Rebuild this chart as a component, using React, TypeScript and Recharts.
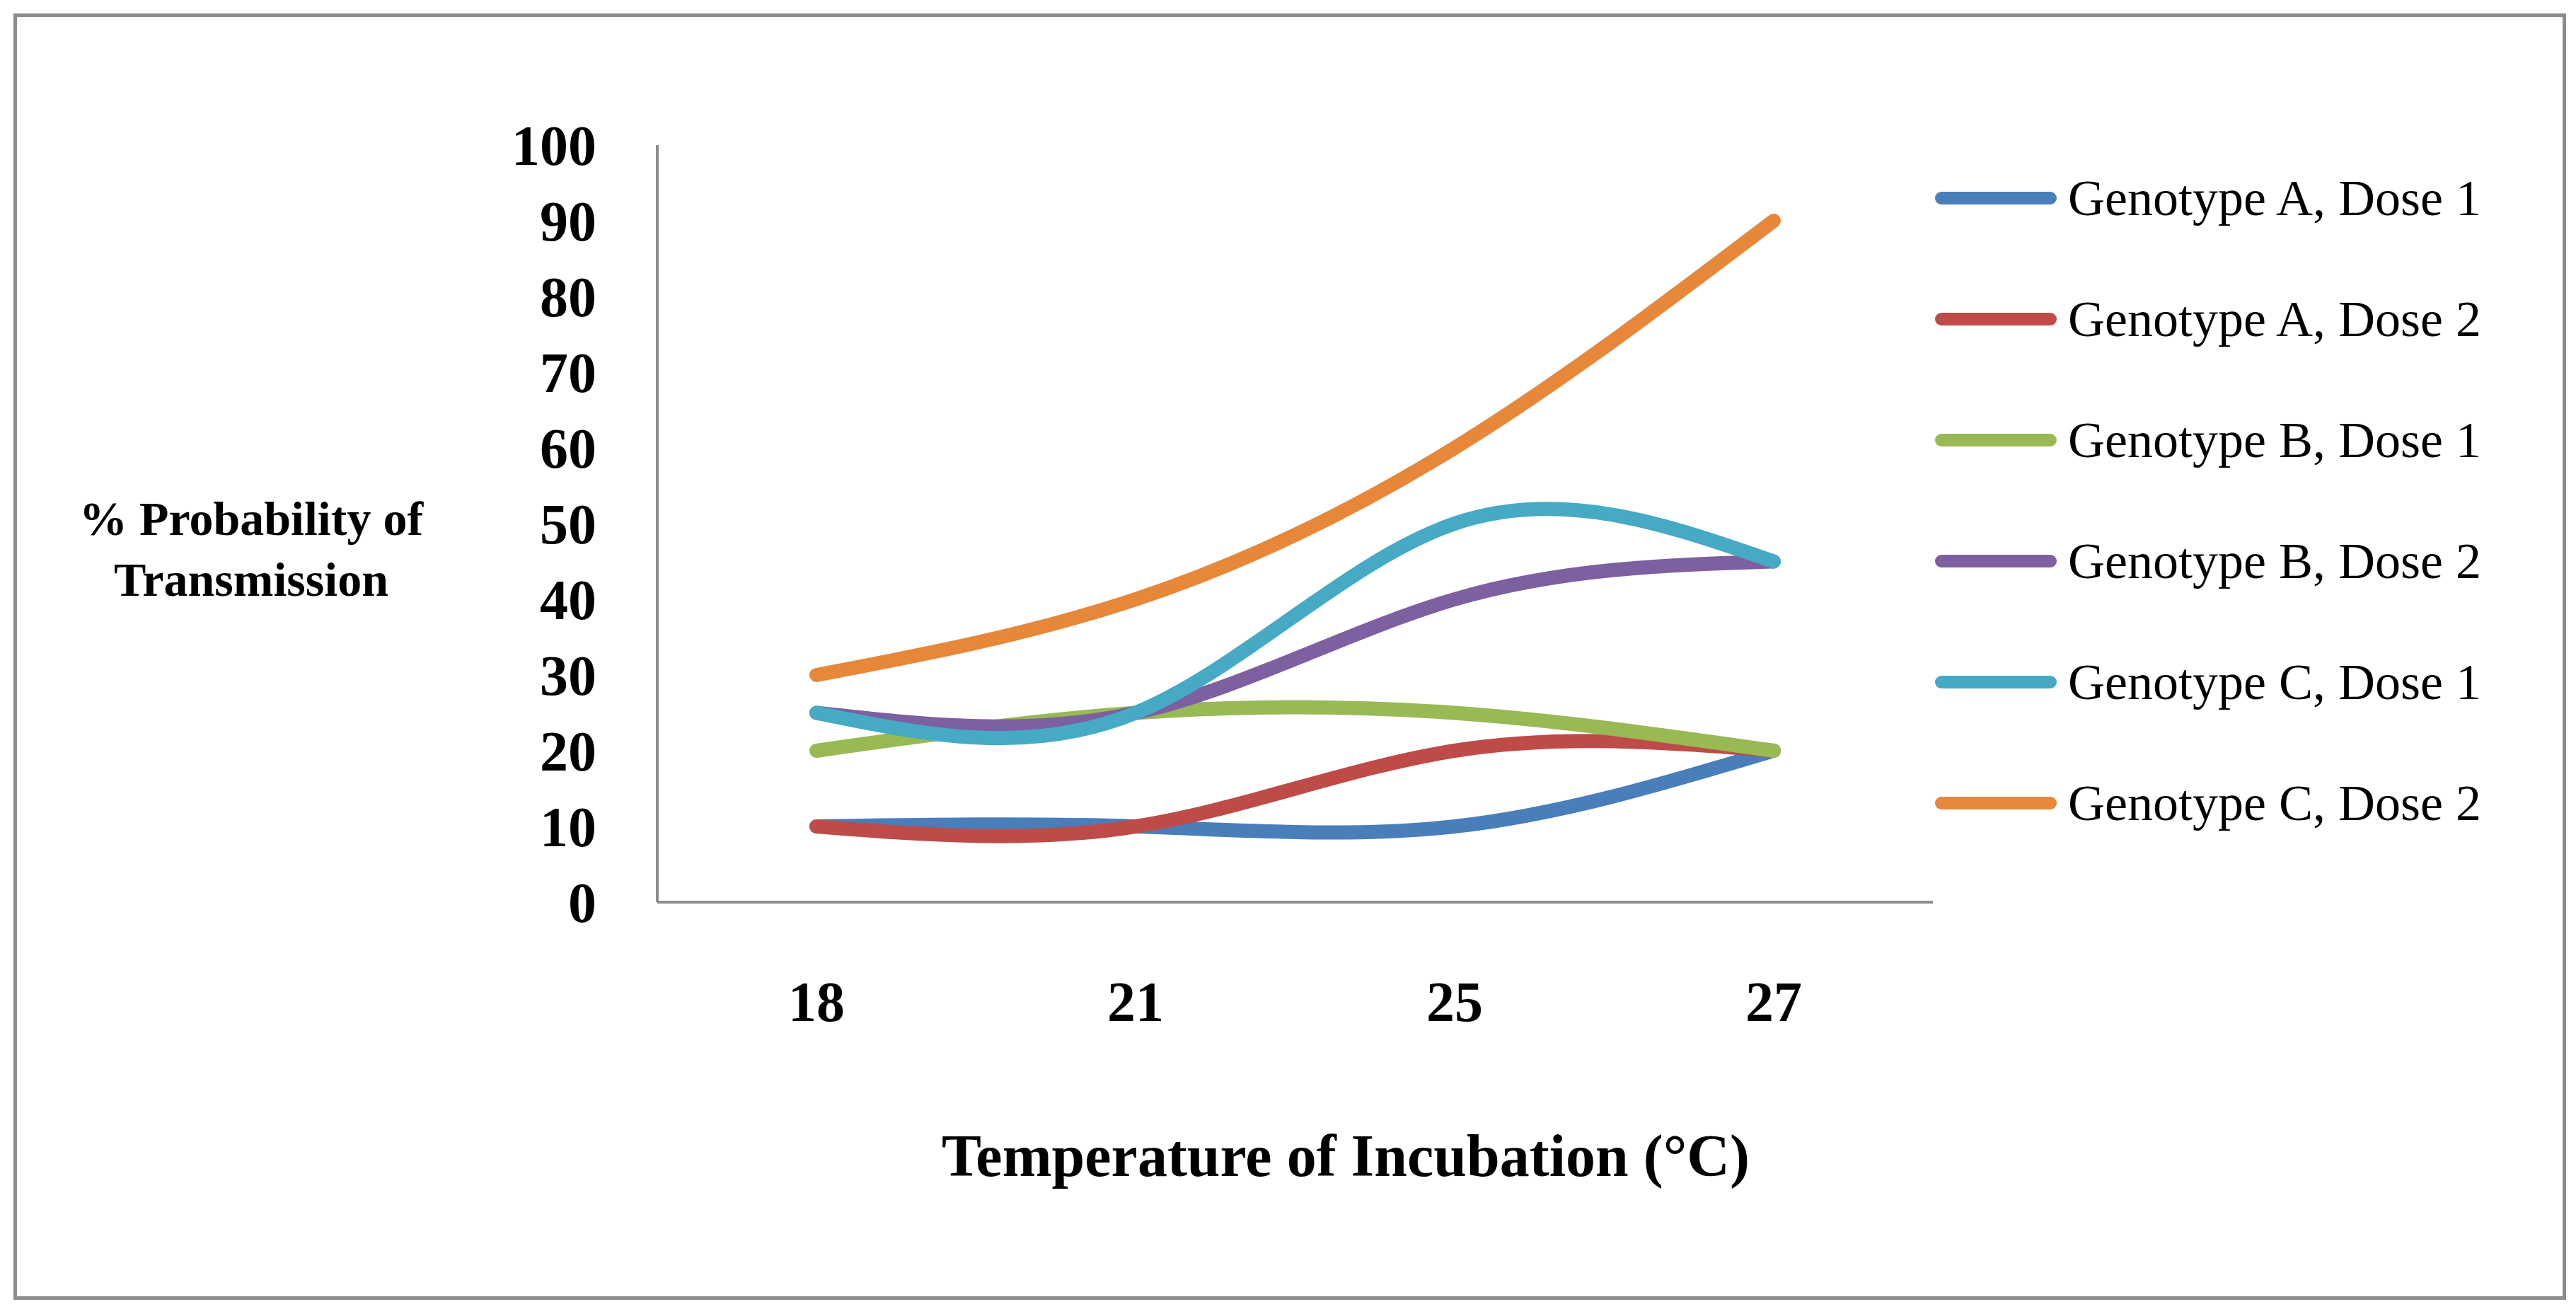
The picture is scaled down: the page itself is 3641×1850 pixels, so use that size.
import React from "react";
import { LineChart, Line, XAxis, YAxis } from "recharts";

const temperatures = ["18", "21", "25", "27"];
const genotypeA1 = [10, 10, 10, 20];
const genotypeA2 = [10, 10, 20, 20];
const genotypeB1 = [20, 25, 25, 20];
const genotypeB2 = [25, 25, 40, 45];
const genotypeC1 = [25, 25, 50, 45];
const genotypeC2 = [30, 40, 60, 90];
const yTicks = [0, 10, 20, 30, 40, 50, 60, 70, 80, 90, 100];

const series = [
  { key: "a1", name: "Genotype A, Dose 1", color: "#4A7EBB", values: genotypeA1 },
  { key: "a2", name: "Genotype A, Dose 2", color: "#BE4B48", values: genotypeA2 },
  { key: "b1", name: "Genotype B, Dose 1", color: "#98B954", values: genotypeB1 },
  { key: "b2", name: "Genotype B, Dose 2", color: "#7D60A0", values: genotypeB2 },
  { key: "c1", name: "Genotype C, Dose 1", color: "#46AAC5", values: genotypeC1 },
  { key: "c2", name: "Genotype C, Dose 2", color: "#E6873A", values: genotypeC2 },
];

const data = temperatures.map((t, i) => {
  const row: Record<string, string | number> = { temp: t };
  series.forEach((s) => (row[s.key] = s.values[i]));
  return row;
});

const font = "'Liberation Serif', 'Times New Roman', serif";

export default function App() {
  return (
    <div style={{ position: "absolute", left: 0, top: 0, width: 3641, height: 1850, background: "#fff", fontFamily: font }}>
      <div style={{ position: "absolute", left: 19, top: 19, width: 3598, height: 1808, border: "5px solid #8c8c8c" }} />
      <LineChart
        width={3641}
        height={1850}
        data={data}
        margin={{ top: 205, right: 909, left: 729, bottom: 545 }}
      >
        <XAxis
          dataKey="temp"
          padding={{ left: 225, right: 225 }}
          axisLine={{ stroke: "#8c8c8c", strokeWidth: 4 }}
          tickLine={false}
          tickMargin={105}
          tick={{ fontSize: 80, fontWeight: "bold", fill: "#000", fontFamily: font }}
        />
        <YAxis
          domain={[0, 100]}
          ticks={yTicks}
          interval={0}
          axisLine={{ stroke: "#8c8c8c", strokeWidth: 4 }}
          tickLine={false}
          tickMargin={80}
          width={200}
          tick={{ fontSize: 80, fontWeight: "bold", fill: "#000", fontFamily: font }}
        />
        {series.map((s) => (
          <Line
            key={s.key}
            dataKey={s.key}
            name={s.name}
            type="natural"
            stroke={s.color}
            strokeWidth={20}
            strokeLinecap="round"
            dot={false}
            isAnimationActive={false}
          />
        ))}
      </LineChart>
      <div style={{ position: "absolute", left: 0, width: 710, top: 690, textAlign: "center", fontSize: 68, fontWeight: "bold", lineHeight: "86px" }}>
        % Probability of
        <br />
        Transmission
      </div>
      <div style={{ position: "absolute", left: 929, width: 1946, top: 1585, textAlign: "center", fontSize: 84, fontWeight: "bold" }}>
        Temperature of Incubation (°C)
      </div>
      {series.map((s, i) => (
        <div key={s.key} style={{ position: "absolute", left: 2735, top: 280 + i * 171 - 45, height: 90, display: "flex", alignItems: "center" }}>
          <div style={{ width: 172, height: 18, background: s.color, borderRadius: 9, marginRight: 16 }} />
          <span style={{ fontSize: 72, whiteSpace: "nowrap" }}>{s.name}</span>
        </div>
      ))}
    </div>
  );
}
